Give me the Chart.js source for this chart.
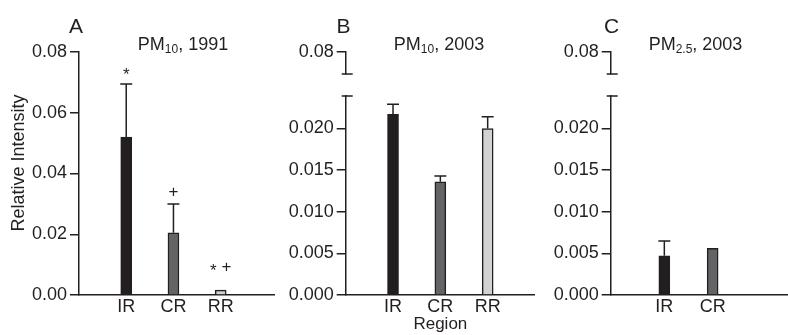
<!DOCTYPE html>
<html>
<head>
<meta charset="utf-8">
<script src="https://cdn.jsdelivr.net/npm/chart.js@4.4.1/dist/chart.umd.min.js"></script>
<style>
  body { margin: 0; background: #fff; }
  #wrap { position: relative; width: 788px; height: 335px; overflow: hidden; }
  .panel { position: absolute; top: 0; height: 335px; }
</style>
</head>
<body>
<div id="wrap">
  <div class="panel" style="left:0px;width:275px"><canvas id="chartA"></canvas></div>
  <div class="panel" style="left:275px;width:260px"><canvas id="chartB"></canvas></div>
  <div class="panel" style="left:535px;width:253px"><canvas id="chartC"></canvas></div>
</div>
<script>
// data
var regions = ["IR", "CR", "RR"]

var pm10_1991 = [0.052, 0.0205, 0.0016]
var pm10_1991_err = [0.0175, 0.0095, 0]
var pm10_1991_marks = ["*", "+", "* +"]
var pm10_1991_markLevel = [0.0742, 0.0344, 0.0094]

var pm10_2003 = [0.0217, 0.0136, 0.0200]
var pm10_2003_err = [0.0012, 0.0007, 0.0014]

var pm25_2003 = [0.0047, 0.0056]
var pm25_2003_err = [0.0018, 0]

var ticksFull = [0, 0.02, 0.04, 0.06, 0.08]
var ticksLow = [0, 0.005, 0.010, 0.015, 0.020]
var ticksTop = [0.08]

var ink = "#231f20"
var barColors = ["#231f20", "#636466", "#d1d2d4"]
var font = "'Liberation Sans', Arial, sans-serif"

function fixedTicks(list) {
  return function(scale) {
    scale.ticks = list.map(function(v) { return { value: v } })
  }
}

function fixWidth(w) {
  return function(scale) { scale.width = w }
}

function drawMark(ctx, text, x, y) {
  // '*' sits high in the font, so it gets its own baseline
  ctx.font = "17px " + font
  var parts = text.split(" ")
  var gap = 5
  var widths = parts.map(function(p) { return ctx.measureText(p).width })
  var total = widths.reduce(function(a, b) { return a + b }, 0) + gap * (parts.length - 1)
  var cx = x - total / 2
  ctx.textAlign = "left"
  ctx.textBaseline = "alphabetic"
  for (var i = 0; i < parts.length; i++) {
    var shift = parts[i] == "*" ? 10 : 6
    ctx.fillText(parts[i], cx, y + shift)
    cx += widths[i] + gap
  }
}

function decorations(p) {
  return {
    id: "decor" + p.letter,
    afterDatasetsDraw: function(chart) {
      var ctx = chart.ctx
      var xs = chart.scales.x
      var ys = chart.scales.y
      ctx.save()
      ctx.strokeStyle = ink
      ctx.fillStyle = ink
      ctx.lineWidth = 1.5

      // error bars (upper half only)
      for (var i = 0; i < p.values.length; i++) {
        if (!p.errors[i]) continue
        var x = xs.getPixelForValue(i + 1)
        var y0 = ys.getPixelForValue(p.values[i])
        var y1 = ys.getPixelForValue(p.values[i] + p.errors[i])
        ctx.beginPath()
        ctx.moveTo(x, y0)
        ctx.lineTo(x, y1)
        ctx.moveTo(x - 6, y1)
        ctx.lineTo(x + 6, y1)
        ctx.stroke()
      }

      // significance marks
      if (p.marks) {
        for (var j = 0; j < p.marks.length; j++) {
          drawMark(ctx, p.marks[j], xs.getPixelForValue(j + 1), ys.getPixelForValue(p.markLevel[j]))
        }
      }

      // axis break marks
      if (chart.scales.yTop) {
        var ax = ys.right
        var yb = chart.scales.yTop.bottom
        var yt = ys.top
        ctx.beginPath()
        ctx.moveTo(ax - 4, yb)
        ctx.lineTo(ax + 7, yb)
        ctx.moveTo(ax - 4, yt)
        ctx.lineTo(ax + 7, yt)
        ctx.stroke()
      }

      // panel letter
      ctx.textAlign = "center"
      ctx.textBaseline = "alphabetic"
      ctx.font = "21px " + font
      ctx.fillText(p.letter, p.letterX, 33)

      // title with subscript
      ctx.textAlign = "left"
      ctx.font = "18px " + font
      var w1 = ctx.measureText(p.title[0]).width
      var w3 = ctx.measureText(p.title[2]).width
      ctx.font = "12px " + font
      var w2 = ctx.measureText(p.title[1]).width
      var tx = p.titleX - (w1 + w2 + w3) / 2
      ctx.font = "18px " + font
      ctx.fillText(p.title[0], tx, 50)
      ctx.font = "12px " + font
      ctx.fillText(p.title[1], tx + w1, 53)
      ctx.font = "18px " + font
      ctx.fillText(p.title[2], tx + w1 + w2, 50)

      if (p.yTitle) {
        ctx.save()
        ctx.translate(19, 163)
        ctx.rotate(-Math.PI / 2)
        ctx.textAlign = "center"
        ctx.textBaseline = "middle"
        ctx.font = "18px " + font
        ctx.fillText(p.yTitle, 0, 0)
        ctx.restore()
      }
      ctx.restore()
    }
  }
}

function makePanel(id, p) {
  var points = p.values.map(function(v, i) { return { x: i + 1, y: v } })
  var cats = regions.slice(0, p.values.length)

  var yStyle = {
    position: "left",
    grid: { display: true, drawOnChartArea: false, drawTicks: true, tickLength: 9, color: ink, lineWidth: 1.5 },
    border: { display: true, color: ink, width: 1.5 },
    ticks: { color: ink, font: { family: font, size: 18 }, padding: 3 },
    afterFit: fixWidth(p.axisLeft)
  }

  var scales = {
    x: {
      type: "linear",
      offset: false,
      min: p.xMin,
      max: p.xMax,
      grid: { display: false, drawTicks: false, offset: false },
      border: { display: true, color: ink, width: 1.5 },
      afterBuildTicks: fixedTicks(cats.map(function(c, i) { return i + 1 })),
      ticks: {
        color: ink,
        font: { family: font, size: 18 },
        padding: 1,
        autoSkip: false,
        maxRotation: 0,
        callback: function(v) { return regions[v - 1] }
      },
      title: {
        display: !!p.xTitle,
        text: p.xTitle || "",
        color: ink,
        font: { family: font, size: 17 },
        padding: { top: 0, bottom: 0 }
      },
      afterFit: function(scale) { scale.height = 40 }
    }
  }

  if (p.broken) {
    scales.yTop = Object.assign({}, yStyle, {
      min: 0.07, max: 0.08,
      stack: "left", stackWeight: 22, weight: 3,
      afterBuildTicks: fixedTicks(ticksTop),
      ticks: Object.assign({}, yStyle.ticks, { callback: function(v) { return v.toFixed(2) } })
    })
    scales.yGap = {
      position: "left",
      min: 0, max: 1,
      stack: "left", stackWeight: 22, weight: 2,
      grid: { display: false, drawTicks: false },
      border: { display: false },
      ticks: { display: false },
      afterFit: fixWidth(p.axisLeft)
    }
    scales.y = Object.assign({}, yStyle, {
      min: 0, max: 0.0239,
      stack: "left", stackWeight: 199, weight: 1,
      afterBuildTicks: fixedTicks(ticksLow),
      ticks: Object.assign({}, yStyle.ticks, { callback: function(v) { return v.toFixed(3) } })
    })
  } else {
    scales.y = Object.assign({}, yStyle, {
      min: 0, max: 0.08,
      afterBuildTicks: fixedTicks(ticksFull),
      ticks: Object.assign({}, yStyle.ticks, { callback: function(v) { return v.toFixed(2) } })
    })
  }

  return new Chart(document.getElementById(id), {
    type: "bar",
    data: {
      datasets: [{
        data: points,
        xAxisID: "x",
        yAxisID: "y",
        backgroundColor: barColors.slice(0, p.values.length),
        borderColor: ink,
        borderWidth: 1.5,
        barThickness: 11
      }]
    },
    options: {
      responsive: true,
      maintainAspectRatio: false,
      animation: false,
      layout: { padding: { top: 52, right: 0, bottom: 0, left: 0 } },
      plugins: { legend: { display: false }, tooltip: { enabled: false } },
      scales: scales
    },
    plugins: [decorations(p)]
  })
}

makePanel("chartA", {
  letter: "A", letterX: 76, titleX: 183,
  title: ["PM", "10", ", 1991"],
  yTitle: "Relative Intensity",
  values: pm10_1991, errors: pm10_1991_err,
  marks: pm10_1991_marks, markLevel: pm10_1991_markLevel,
  axisLeft: 79, xMin: 0, xMax: 4.15, broken: false
})

makePanel("chartB", {
  letter: "B", letterX: 68.5, titleX: 164,
  title: ["PM", "10", ", 2003"],
  xTitle: "Region",
  values: pm10_2003, errors: pm10_2003_err,
  axisLeft: 70.7, xMin: 0, xMax: 4.0, broken: true
})

makePanel("chartC", {
  letter: "C", letterX: 76.5, titleX: 160.5,
  title: ["PM", "2.5", ", 2003"],
  values: pm25_2003, errors: pm25_2003_err,
  axisLeft: 75.7, xMin: -0.11, xMax: 3.56, broken: true
})
</script>
</body>
</html>
